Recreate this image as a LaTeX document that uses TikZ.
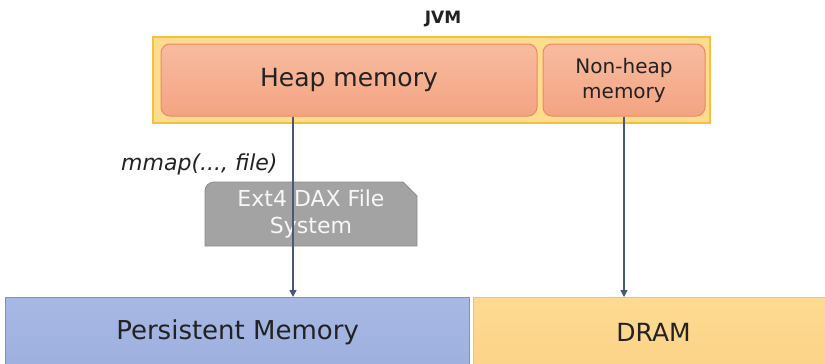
\documentclass[tikz,border=0pt]{standalone}
\usepackage{fontspec}
\setmainfont{DejaVu Sans}
\usetikzlibrary{arrows.meta}
\definecolor{jvmfill}{HTML}{FDDC8E}
\definecolor{jvmdraw}{HTML}{F5C040}
\definecolor{heaptop}{HTML}{F8BBA0}
\definecolor{heapbot}{HTML}{F3A482}
\definecolor{heapdraw}{HTML}{EA8A60}
\definecolor{extfill}{HTML}{A3A3A3}
\definecolor{extdraw}{HTML}{8C8C8C}
\definecolor{pmtop}{HTML}{A7B8E4}
\definecolor{pmbot}{HTML}{9EB0DF}
\definecolor{pmdraw}{HTML}{7A92CF}
\definecolor{dramtop}{HTML}{FDDA92}
\definecolor{drambot}{HTML}{FCD388}
\definecolor{dramdraw}{HTML}{F6C55A}
\definecolor{arrcol}{HTML}{4A5878}
\definecolor{txt}{HTML}{222222}
\tikzset{
  box/.style={inner sep=0pt, text=txt, align=center},
  heapbox/.style={box, rounded corners=9pt, draw=heapdraw, line width=1pt, top color=heaptop, bottom color=heapbot},
  arr/.style={draw=arrcol, line width=1.3pt, -{Triangle[length=7pt,width=7pt]}},
}
\begin{document}
\begin{tikzpicture}[x=1pt,y=-1pt]
\useasboundingbox (0,0) rectangle (825,364);
\fill[white] (0,0) rectangle (825,364);
% JVM
\node[box, font=\fontsize{17}{20}\selectfont\bfseries] (jvmlabel) at (443,19) {JVM};
\node[box, draw=jvmdraw, fill=jvmfill, line width=1.5pt, minimum width=557pt, minimum height=86pt] (jvm) at (431.5,80) {};
\node[heapbox, minimum width=376pt, minimum height=72pt, font=\fontsize{25}{29}\selectfont] (heap) at (349,80) {Heap memory};
\node[heapbox, minimum width=162pt, minimum height=72pt, font=\fontsize{20}{25}\selectfont] (nonheap) at (624,80) {Non-heap\\memory};
% label
\node[box, font=\fontsize{22}{26}\selectfont\itshape, anchor=west] (mmap) at (121,164) {mmap(..., file)};
% Ext4
\path[fill=extfill, draw=extdraw, line width=0.8pt] (205,246) [rounded corners=9pt] -- (205,182) [sharp corners] -- (403,182) -- (417,196) -- (417,246) -- cycle;
\node[box, text=white!94!gray, font=\fontsize{22}{27}\selectfont] (ext) at (311,214) {Ext4 DAX File\\System};
% bottom
\node[box, draw=pmdraw, top color=pmtop, bottom color=pmbot, line width=1.2pt, minimum width=464pt, minimum height=70pt, font=\fontsize{26}{30}\selectfont, anchor=north west] (pm) at (5,297) {Persistent Memory};
\node[box, draw=dramdraw, top color=dramtop, bottom color=drambot, line width=1.2pt, minimum width=360pt, minimum height=70pt, font=\fontsize{25}{30}\selectfont, anchor=north west] (dram) at (473,297) {DRAM};
% arrows
\coordinate (a1) at (293,0);
\draw[arr] (heap.south -| a1) -- (pm.north -| a1);
\draw[arr] (nonheap.south) -- (dram.north -| nonheap.south);
\end{tikzpicture}
\end{document}
